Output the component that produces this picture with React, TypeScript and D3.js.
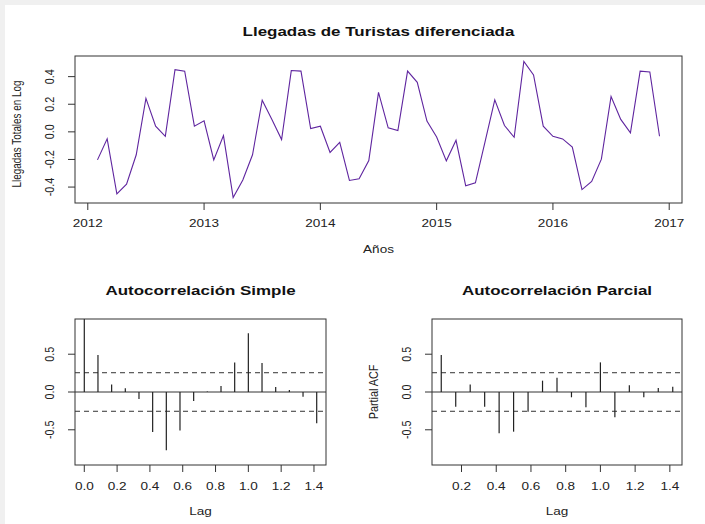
import React from "react";
import * as d3 from "d3";

// ---- Data ----
const startYear = 2012 + 1 / 12; // Feb 2012 (first difference)
const monthlyValues = [
  -0.203, -0.051, -0.45, -0.379, -0.166, 0.242, 0.041, -0.032, 0.451, 0.44, 0.041,
  0.08, -0.203, -0.027, -0.476, -0.349, -0.166, 0.229, 0.09, -0.056, 0.444, 0.44, 0.024,
  0.041, -0.149, -0.076, -0.352, -0.34, -0.208, 0.286, 0.029, 0.01, 0.44, 0.359, 0.078,
  -0.037, -0.21, -0.061, -0.391, -0.369, -0.07, 0.232, 0.046, -0.039, 0.51, 0.412, 0.041,
  -0.032, -0.051, -0.11, -0.418, -0.359, -0.198, 0.256, 0.09, -0.007, 0.44, 0.434, -0.032,
];
const yearTicks = [2012, 2013, 2014, 2015, 2016, 2017];
const topYTicks = [-0.4, -0.2, 0.0, 0.2, 0.4];

const acfValues = [
  1.0, 0.489, 0.1, 0.048, -0.093, -0.529, -0.772, -0.511, -0.119, 0.005, 0.079, 0.392,
  0.776, 0.384, 0.066, 0.026, -0.062, -0.414,
];
const pacfValues = [
  0.489, -0.194, 0.1, -0.194, -0.547, -0.525, -0.26, 0.15, 0.189, -0.07, -0.203, 0.392,
  -0.335, 0.088, -0.07, 0.053, 0.07,
];
const ciLevel = 0.255;
const acfXTicks = [0.0, 0.2, 0.4, 0.6, 0.8, 1.0, 1.2, 1.4];
const pacfXTicks = [0.2, 0.4, 0.6, 0.8, 1.0, 1.2, 1.4];
const corrYTicks = [-0.5, 0.0, 0.5];

const FONT = "'Liberation Sans', Arial, sans-serif";
const AX = "#333";
const TXT = "#222";
const SX = 1.13;
const SY = 0.9;

const fmt1 = (v: number) => v.toFixed(1);

function T(props: {
  x: number;
  y: number;
  size: number;
  rotate?: boolean;
  bold?: boolean;
  children: React.ReactNode;
}) {
  const { x, y, size, rotate, bold, children } = props;
  return (
    <g transform={`translate(${x},${y}) scale(${SX},${SY})${rotate ? " rotate(-90)" : ""}`}>
      <text
        x={0}
        y={0}
        textAnchor="middle"
        fontSize={size}
        fontWeight={bold ? "bold" : "normal"}
        fill={bold ? "#111" : TXT}
      >
        {children}
      </text>
    </g>
  );
}

function TopPlot() {
  const L = 75, R = 682, Tp = 56, B = 203;
  const times = monthlyValues.map((_, i) => startYear + i / 12);
  const tMin = d3.min(times)!, tMax = d3.max(times)!;
  const padX = (tMax - tMin) * 0.04;
  const x = d3.scaleLinear().domain([tMin - padX, tMax + padX]).range([L, R]);
  const vMin = d3.min(monthlyValues)!, vMax = d3.max(monthlyValues)!;
  const padY = (vMax - vMin) * 0.04;
  const y = d3.scaleLinear().domain([vMin - padY, vMax + padY]).range([B, Tp]);
  const line = d3
    .line<number>()
    .x((_, i) => x(times[i]))
    .y((d) => y(d));
  return (
    <g>
      <T x={(L + R) / 2} y={36} size={15} bold>
        Llegadas de Turistas diferenciada
      </T>
      <path d={line(monthlyValues) || ""} fill="none" stroke="#5f259f" strokeWidth={1.1} />
      <rect x={L} y={Tp} width={R - L} height={B - Tp} fill="none" stroke={AX} strokeWidth={1} />
      {yearTicks.map((t) => (
        <g key={t}>
          <line x1={x(t)} x2={x(t)} y1={B} y2={B + 7} stroke={AX} />
          <T x={x(t)} y={227} size={12}>
            {t}
          </T>
        </g>
      ))}
      {topYTicks.map((t) => (
        <g key={t}>
          <line x1={L - 7} x2={L} y1={y(t)} y2={y(t)} stroke={AX} />
          <T x={54} y={y(t)} size={12} rotate>
            {fmt1(t)}
          </T>
        </g>
      ))}
      <T x={(L + R) / 2} y={253} size={12}>
        Años
      </T>
      <T x={21} y={134} size={11} rotate>
        Llegadas Totales en Log
      </T>
    </g>
  );
}

function CorrPlot(props: {
  L: number;
  R: number;
  values: number[];
  firstLag: number;
  xTicks: number[];
  title: string;
  ylabel?: string;
  clipId: string;
}) {
  const { L, R, values, firstLag, xTicks, title, ylabel, clipId } = props;
  const Tp = 319, B = 465;
  const lags = values.map((_, i) => (firstLag + i) / 12);
  const lMin = d3.min(lags)!, lMax = d3.max(lags)!;
  const padX = (lMax - lMin) * 0.04;
  const x = d3.scaleLinear().domain([lMin - padX, lMax + padX]).range([L, R]);
  const y = d3.scaleLinear().domain([-0.966, 0.966]).range([B, Tp]);
  const cx = (L + R) / 2;
  return (
    <g>
      <defs>
        <clipPath id={clipId}>
          <rect x={L} y={Tp} width={R - L} height={B - Tp} />
        </clipPath>
      </defs>
      <T x={cx} y={295} size={15} bold>
        {title}
      </T>
      <g clipPath={`url(#${clipId})`}>
        <line x1={L} x2={R} y1={y(0)} y2={y(0)} stroke={AX} strokeWidth={1} />
        {[ciLevel, -ciLevel].map((c) => (
          <line key={c} x1={L} x2={R} y1={y(c)} y2={y(c)} stroke={AX} strokeDasharray="5,4" strokeWidth={1} />
        ))}
        {values.map((v, i) => (
          <line key={i} x1={x(lags[i])} x2={x(lags[i])} y1={y(0)} y2={y(v)} stroke="#222" strokeWidth={1.2} />
        ))}
      </g>
      <rect x={L} y={Tp} width={R - L} height={B - Tp} fill="none" stroke={AX} strokeWidth={1} />
      {xTicks.map((t) => (
        <g key={t}>
          <line x1={x(t)} x2={x(t)} y1={B} y2={B + 7} stroke={AX} />
          <T x={x(t)} y={490} size={12}>
            {fmt1(t)}
          </T>
        </g>
      ))}
      {corrYTicks.map((t) => (
        <g key={t}>
          <line x1={L - 7} x2={L} y1={y(t)} y2={y(t)} stroke={AX} />
          <T x={L - 21} y={y(t)} size={12} rotate>
            {fmt1(t)}
          </T>
        </g>
      ))}
      <T x={cx} y={515} size={12}>
        Lag
      </T>
      {ylabel && (
        <T x={L - 54} y={(Tp + B) / 2} size={12} rotate>
          {ylabel}
        </T>
      )}
    </g>
  );
}

export default function App() {
  return (
    <svg
      width={705}
      height={524}
      style={{ position: "absolute", left: 0, top: 0, fontFamily: FONT, background: "#fff" }}
    >
      <rect x={0} y={0} width={705} height={524} fill="#fff" />
      <rect x={0} y={0} width={705} height={5} fill="#f0f0f0" />
      <rect x={0} y={0} width={5} height={524} fill="#f0f0f0" />
      <TopPlot />
      <CorrPlot
        L={75}
        R={326}
        values={acfValues}
        firstLag={0}
        xTicks={acfXTicks}
        title="Autocorrelación Simple"
        clipId="clipAcf"
      />
      <CorrPlot
        L={432}
        R={682}
        values={pacfValues}
        firstLag={1}
        xTicks={pacfXTicks}
        title="Autocorrelación Parcial"
        ylabel="Partial ACF"
        clipId="clipPacf"
      />
    </svg>
  );
}
